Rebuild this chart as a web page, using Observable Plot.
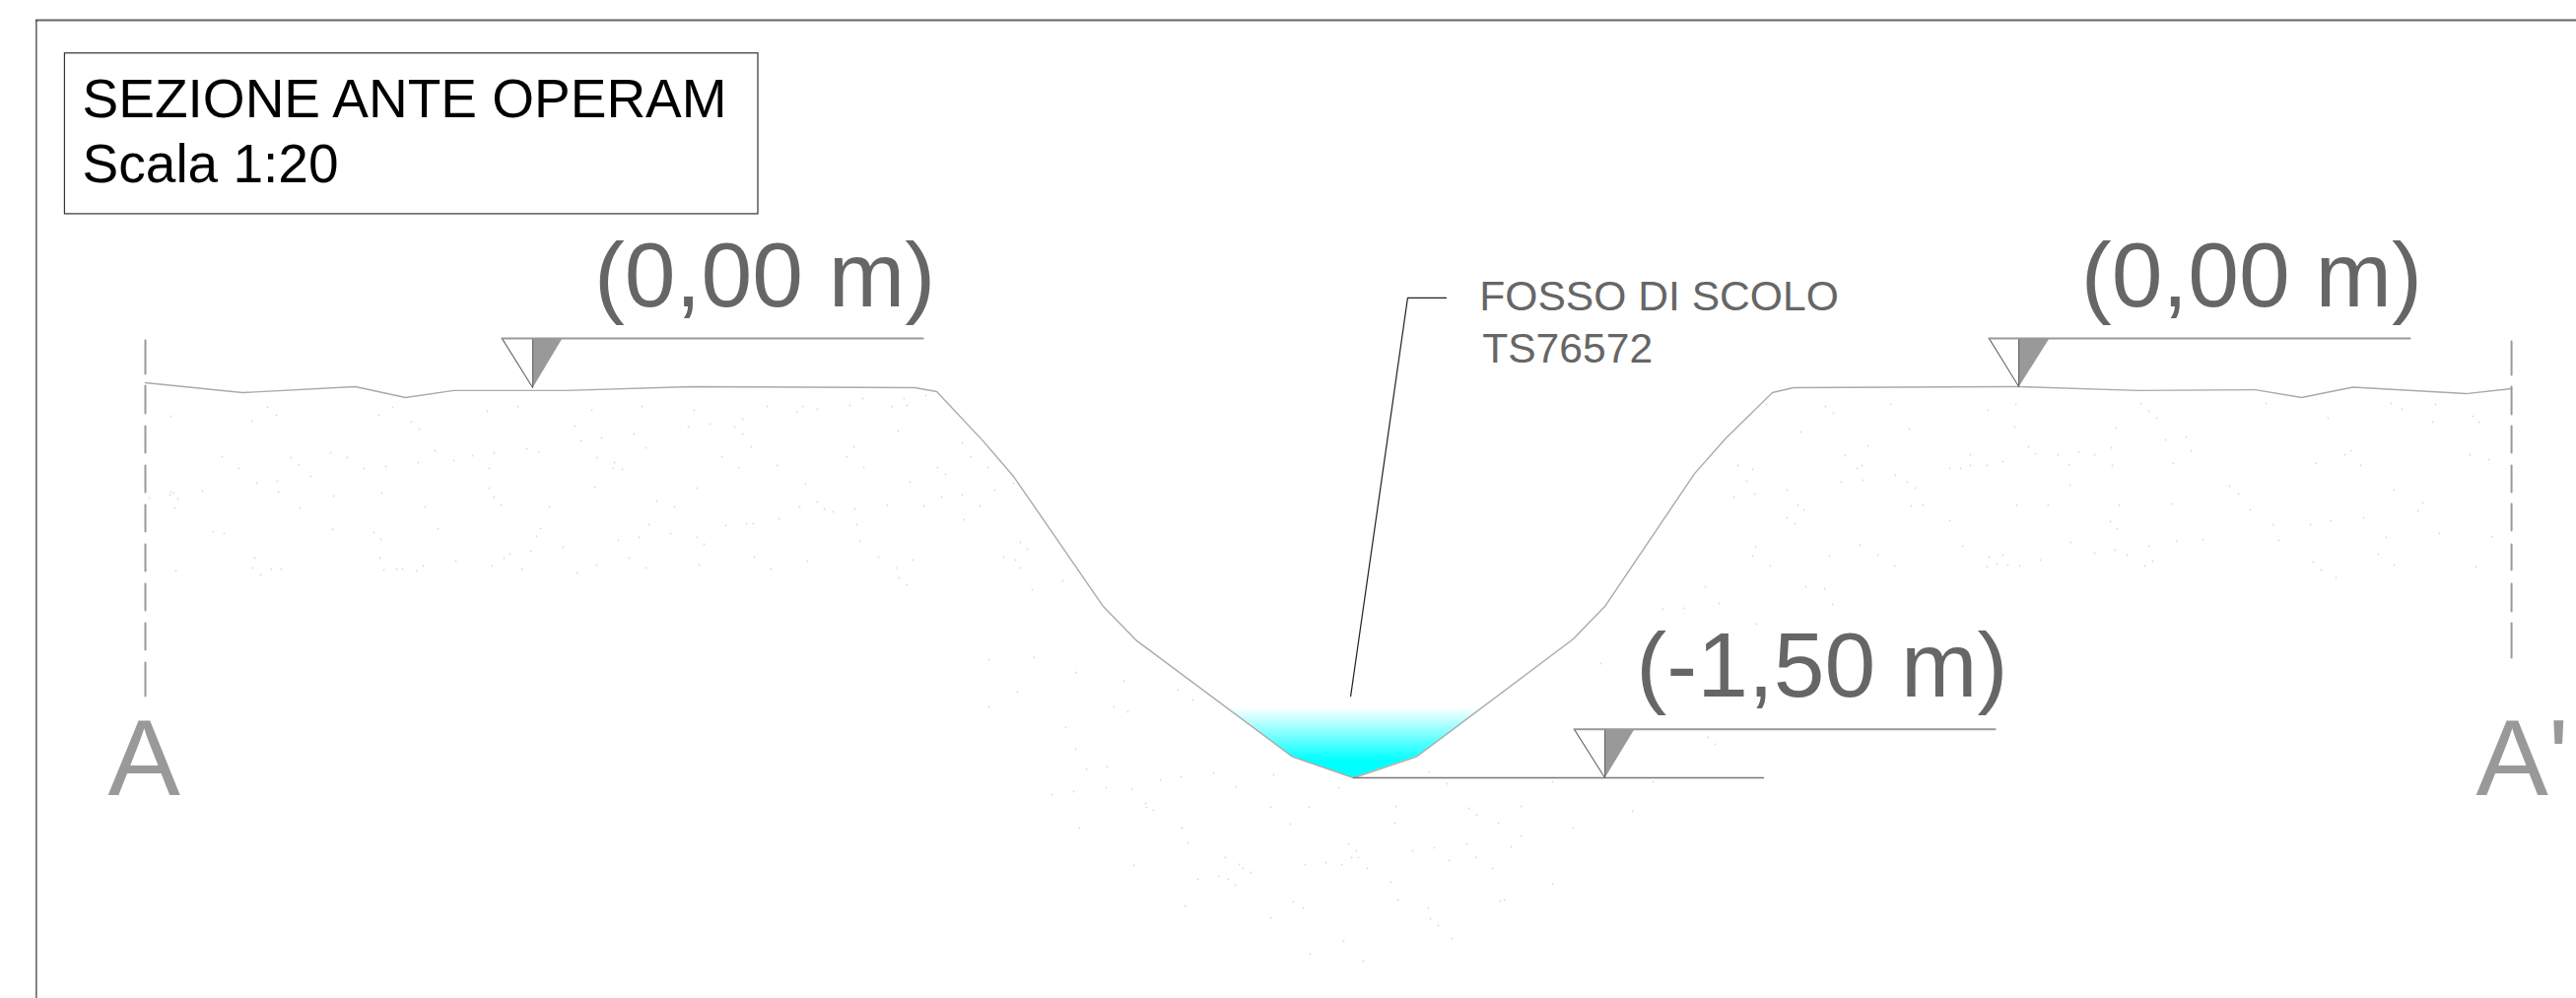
<!DOCTYPE html>
<html>
<head>
<meta charset="utf-8">
<script src="https://cdn.jsdelivr.net/npm/d3@7"></script>
<script src="https://cdn.jsdelivr.net/npm/@observablehq/plot@0.6"></script>
<style>
html,body{margin:0;padding:0;background:#fff;overflow:hidden}
svg{display:block}
</style>
</head>
<body>
<div id="chart"></div>
<script>
// Section surface: station along the A-A' line (m) and elevation (m)
const profileStation = [0,0.373,0.807,1.000,1.186,1.617,2.100,2.958,3.042,3.220,3.337,3.682,3.807,4.409,4.644,4.886,5.489,5.610,5.955,6.076,6.254,6.335,7.201,7.659,8.110,8.288,8.485,8.919,9.095];
const profileElevation = [0.019,-0.019,0.004,-0.038,-0.011,-0.011,0.004,0,-0.015,-0.205,-0.341,-0.841,-0.970,-1.419,-1.500,-1.419,-0.966,-0.841,-0.330,-0.193,-0.019,0,0.004,-0.011,-0.008,-0.038,0.002,-0.023,-0.004];

// Water in the ditch
const waterStation = [4.155,4.409,4.644,4.886,5.148];
const waterBed = [-1.231,-1.419,-1.500,-1.419,-1.231];
const waterSurface = -1.231;

// Level markers
const markerTip = [1.489,7.201,5.610];
const markerTipElevation = [0,0.004,-1.500];
const markerTop = [0.189,0.189,-1.313];
const markerLeft = [1.371,7.087,5.492];
const markerRight = [1.602,7.318,5.723];
const markerEnd = [2.989,8.705,7.110];
const markerLabels = ["(0,00 m)","(0,00 m)","(-1,50 m)"];
const markerLabelStation = [1.725,7.440,5.730];
const markerLabelElevation = [0.314,0.314,-1.189];

// Datum line under the ditch
const bedLineStation = [4.644,6.220];
const bedLineElevation = -1.500;

// Section trace lines
const traceStation = [0,9.095];
const traceTop = [0.182,0.178];
const traceBottom = [-1.189,-1.038];
const traceLabels = ["A","A'"];
const traceLabelStation = [-0.144,8.958];
const traceLabelElevation = -1.568;

// Leader and its note
const leaderStation = [4.633,4.852,5.000];
const leaderElevation = [-1.186,0.345,0.345];
const noteLines = ["FOSSO DI SCOLO","TS76572"];
const noteStation = [5.128,5.139];
const noteElevation = [0.298,0.098];

// Title block
const titleLines = ["SEZIONE ANTE OPERAM","Scala 1:20"];
const titleStation = [-0.242,-0.242];
const titleElevation = [1.038,0.788];
const titleBox = {x1:-0.309,x2:2.356,y1:0.667,y2:1.285};

// Sheet frame
const frameStation = -0.419;
const frameElevation = 1.413;

// Ground hatch specks, digitised in sheet units (264 per metre)
const speckU = [173,271,280,255,398,384,417,425,494,525,600,583,589,610,643,225,295,335,352,303,242,369,391,441,424,460,479,501,534,546,496,605,623,622,631,315,281,260,282,205,173,176,172,151,180,177,304,338,387,431,496,501,508,557,603,216,227,337,379,386,444,548,544,571,627,648,258,256,275,285,264,178,385,389,402,408,422,429,462,499,511,517,538,529,585,605,638,
651,704,778,814,808,829,862,875,905,917,920,939,753,720,698,745,753,911,655,762,866,976,732,859,985,749,788,876,951,1002,959,923,817,707,1028,1009,976,955,666,684,829,811,836,845,867,900,937,994,978,790,757,764,736,658,869,680,707,714,872,1035,1042,1018,1030,1035,891,926,909,765,819,709,782,655,912,920,1047,1078,
1067,1089,1122,1148,1177,1198,1231,1292,1254,1358,1450,1468,1162,1163,1170,1289,1328,1416,1490,1498,1543,1095,1199,1309,1415,1520,1543,1205,1368,1376,1433,1455,1488,1533,1243,1371,1378,1497,1150,1257,1261,1269,1324,1345,1361,1387,1470,1514,1215,1236,1246,1253,1411,1202,1312,1322,1418,1449,1522,1289,1451,1459,1473,1363,1329,1383,
1792,1852,1860,1918,2045,2017,2172,2180,2188,1827,1937,2044,2147,1895,2058,2197,2218,2223,2142,1872,1999,2065,2088,2109,2125,1763,1778,1884,1889,1978,1989,1999,2016,2032,2099,2143,2205,1923,1772,1868,1890,1935,1943,1813,1780,1759,2100,1824,1830,1939,1951,2046,2078,2150,2204,1813,1821,1978,2141,2148,2101,2208,2235,1781,1887,1991,2180,1778,1856,1905,2018,2032,2125,2146,2158,2070,2184,1796,1922,2016,2026,2037,2049,2176,1832,1851,
1003,1003,1032,1049,1091,1140,1130,1144,1081,1091,1123,1102,1210,1195,1624,1733,1740,1708,1687,1730,1859,1782,1744,1575,1677,1656,1596,1526,1575,
2299,2362,2426,2437,2471,2509,2515,2468,2379,2385,2395,2506,2525,2350,2429,2458,2453,2475,2528,2421,2398,2365,2344,2413,2429,2512,2347,2355,2370,2283,2262,2306,2312,2271,148];
const speckV = [422,413,421,427,413,421,428,435,417,412,416,432,447,444,440,463,464,459,464,471,475,475,473,457,469,467,462,459,455,458,475,464,469,475,476,483,488,490,499,498,499,500,502,505,506,515,515,503,500,514,495,504,512,514,494,539,541,537,540,547,536,536,544,555,548,545,566,576,577,577,583,579,566,578,577,577,579,574,569,574,566,562,559,577,581,573,566,
412,416,412,412,418,415,411,404,412,404,411,401,425,430,433,433,440,437,454,453,453,449,463,463,463,474,472,474,474,474,481,489,491,495,490,497,502,504,508,514,509,514,516,519,516,512,513,513,527,526,531,531,533,532,532,541,545,552,549,550,557,565,568,576,565,568,576,565,569,573,577,576,586,593,598,589,
806,803,799,800,791,788,784,786,798,799,783,795,815,819,822,819,819,818,820,827,818,840,840,836,835,835,848,855,856,863,863,860,856,859,870,870,870,870,878,877,881,885,877,875,877,881,873,881,892,889,892,898,895,919,915,921,913,921,914,931,932,939,952,955,968,975,
410,412,419,410,410,416,409,417,424,438,435,433,434,452,453,446,443,457,454,462,461,460,461,458,461,472,476,475,472,475,475,472,472,468,471,472,470,482,488,489,487,489,495,497,501,504,492,512,517,513,512,512,512,512,511,525,531,528,529,536,550,549,547,555,553,554,554,564,564,563,565,563,561,558,563,568,569,574,574,575,572,573,574,574,595,597,
669,717,702,667,682,691,717,722,738,760,778,780,710,700,673,748,755,617,618,595,613,633,612,793,793,823,840,913,897,
409,424,409,415,410,422,428,428,461,457,472,461,466,470,497,510,518,541,544,545,525,528,532,562,573,575,570,578,586,517,493,532,548,501,578];

const metresPerUnit = 1 / 264;
const specks = d3.range(Math.min(speckU.length, speckV.length)).map(i => ({
  x: (speckU[i] - 147) * metresPerUnit,
  y: (393 - speckV[i]) * metresPerUnit
}));

const profile = profileStation.map((x,i) => ({x, y: profileElevation[i]}));
const water = waterStation.map((x,i) => ({x, y1: waterBed[i], y2: waterSurface}));
const markers = markerTip.map((x,i) => ({x, y: markerTipElevation[i], top: markerTop[i], left: markerLeft[i], right: markerRight[i], end: markerEnd[i], label: markerLabels[i], lx: markerLabelStation[i], ly: markerLabelElevation[i]}));
const darkHalves = markers.flatMap((m,i) => [{i,x:m.x,y:m.y},{i,x:m.right,y:m.top},{i,x:m.x,y:m.top}]);
const outlines = markers.flatMap((m,i) => [{i,x:m.left,y:m.top},{i,x:m.x,y:m.y},{i,x:m.x,y:m.top}]);
const tops = markers.flatMap((m,i) => [{i,x:m.left,y:m.top},{i,x:m.end,y:m.top}]);
const sans = "'Liberation Sans', Arial, sans-serif";

const dashLeft = "34 12 28 13 27 13 27 13 27 13 27 13 27 13 27 13 34";
const dashRight = "34 12 28 12 27 13 27 12 27 14 26 14 28 12 35";

const plot = Plot.plot({
  width: 2614, height: 1013,
  margin: 0,
  style: {background: "white"},
  x: {domain: [-147 * metresPerUnit, (2614 - 147) * metresPerUnit], range: [0, 2614], axis: null},
  y: {domain: [393 * metresPerUnit, -620 * metresPerUnit], range: [0, 1013], reverse: false, axis: null},
  marks: [
    () => {
      const defs = d3.create("svg:defs");
      const g = defs.append("linearGradient").attr("id","water").attr("x1",0).attr("x2",0).attr("y1",0).attr("y2",1);
      g.append("stop").attr("offset",0).attr("stop-color","#ffffff");
      g.append("stop").attr("offset",0.76).attr("stop-color","#00ffff");
      g.append("stop").attr("offset",1).attr("stop-color","#00ffff");
      return defs.node();
    },
    Plot.dot(specks, {x:"x", y:"y", r:0.9, fill:"#c4eac4", stroke:"none"}),
    Plot.line([{x:frameStation,y:frameElevation},{x:(2614-147)*metresPerUnit,y:frameElevation}], {x:"x",y:"y",stroke:"#666",strokeWidth:2}),
    Plot.line([{x:frameStation,y:-620*metresPerUnit},{x:frameStation,y:frameElevation}], {x:"x",y:"y",stroke:"#333",strokeWidth:1.2}),
    Plot.rect([titleBox], {x1:"x1",x2:"x2",y1:"y1",y2:"y2",fill:"white",stroke:"#333",strokeWidth:1.2}),
    Plot.text(titleLines, {x:(d,i)=>titleStation[i], y:(d,i)=>titleElevation[i], text:d=>d, textAnchor:"start", lineAnchor:"bottom", fontFamily:sans, fontSize:55, fill:"#000"}),
    Plot.areaY(water, {x:"x", y1:"y1", y2:"y2", fill:"url(#water)", curve:"linear"}),
    Plot.line(profile, {x:"x", y:"y", stroke:"#aaa", strokeWidth:1.4, strokeLinejoin:"round"}),
    Plot.line(bedLineStation.map(x=>({x,y:bedLineElevation})), {x:"x",y:"y",stroke:"#777",strokeWidth:1.5}),
    Plot.line(darkHalves, {x:"x",y:"y",z:"i",fill:"#999",stroke:"none"}),
    Plot.line(outlines, {x:"x",y:"y",z:"i",fill:"none",stroke:"#666",strokeWidth:1.1}),
    Plot.line(tops, {x:"x",y:"y",z:"i",stroke:"#999",strokeWidth:2}),
    Plot.text(markers, {x:"lx", y:"ly", text:"label", textAnchor:"start", lineAnchor:"bottom", fontFamily:sans, fontSize:93, fill:"#666"}),
    Plot.line(leaderStation.map((x,i)=>({x,y:leaderElevation[i]})), {x:"x",y:"y",stroke:"#222",strokeWidth:1.2}),
    Plot.text(noteLines, {x:(d,i)=>noteStation[i], y:(d,i)=>noteElevation[i], text:d=>d, textAnchor:"start", lineAnchor:"bottom", fontFamily:sans, fontSize:42.6, fill:"#666"}),
    Plot.line([{x:traceStation[0],y:traceTop[0]},{x:traceStation[0],y:traceBottom[0]}], {x:"x",y:"y",stroke:"#999",strokeWidth:2,strokeDasharray:dashLeft}),
    Plot.line([{x:traceStation[1],y:traceTop[1]},{x:traceStation[1],y:traceBottom[1]}], {x:"x",y:"y",stroke:"#999",strokeWidth:2,strokeDasharray:dashRight}),
    Plot.text(traceLabels, {x:(d,i)=>traceLabelStation[i], y:traceLabelElevation, text:d=>d, textAnchor:"start", lineAnchor:"bottom", fontFamily:sans, fontSize:110, fill:"#999"})
  ]
});
document.getElementById("chart").appendChild(plot);
</script>
</body>
</html>
